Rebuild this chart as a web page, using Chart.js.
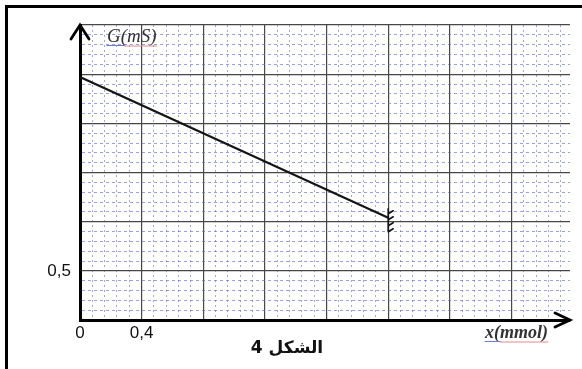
<!DOCTYPE html>
<html>
<head>
<meta charset="utf-8">
<script src="https://cdn.jsdelivr.net/npm/chart.js@4"></script>
<style>
html,body{margin:0;padding:0;background:#fff;}
#wrap{width:582px;height:369px;position:relative;}
</style>
</head>
<body>
<div id="wrap"><canvas id="c" width="582" height="369"></canvas></div>
<script>
// Data
const xValues = [0, 2.0];          // x (mmol)
const gValues = [2.47, 1.04];      // G (mS)
const xTickLabels = {0: '0', 40: '0,4'};   // key = value*100
const yTickLabels = {5: '0,5'};            // key = value*10
const yAxisTitle = 'G(mS)';
const xAxisTitle = 'x(mmol)';
const caption = 'الشكل 4';

const X_MIN = 0, X_MAX = 3.18, X_STEP = 0.08;
const Y_MIN = 0, Y_MAX = 3.0, Y_STEP = 0.1;

const MINOR_X_COLOR = 'rgba(110,115,175,0.62)';
const MINOR_Y_COLOR = 'rgba(90,100,220,0.62)';
const MAJOR_COLOR = '#474747';

function isMajorX(v){ return Math.round(v / X_STEP) % 5 === 0; }
function isMajorY(v){ return Math.round(v / Y_STEP) % 5 === 0; }

const decor = {
  id: 'decor',
  afterDraw(chart) {
    const ctx = chart.ctx;
    const xs = chart.scales.x, ys = chart.scales.y;
    const x0 = xs.getPixelForValue(X_MIN), y0 = ys.getPixelForValue(Y_MIN);
    const xR = xs.getPixelForValue(X_MAX), yT = ys.getPixelForValue(Y_MAX);
    ctx.save();
    // outer frame (top + left)
    ctx.strokeStyle = '#000';
    ctx.lineWidth = 3;
    ctx.beginPath();
    ctx.moveTo(6.5, 369); ctx.lineTo(6.5, 6.5); ctx.lineTo(582, 6.5);
    ctx.stroke();
    // arrows
    ctx.lineWidth = 2.8;
    ctx.lineCap = 'round';
    ctx.lineJoin = 'miter';
    ctx.beginPath();
    ctx.moveTo(x0 - 9, yT + 14); ctx.lineTo(x0, yT); ctx.lineTo(x0 + 9, yT + 14);
    ctx.stroke();
    ctx.beginPath();
    ctx.moveTo(xR - 15, y0 - 7); ctx.lineTo(xR, y0); ctx.lineTo(xR - 15, y0 + 7);
    ctx.stroke();
    // hatch at line end
    const ex = xs.getPixelForValue(xValues[xValues.length - 1]);
    const ey = ys.getPixelForValue(gValues[gValues.length - 1]);
    ctx.lineWidth = 1.6;
    ctx.strokeStyle = '#111';
    ctx.beginPath();
    ctx.moveTo(ex, ey - 9); ctx.lineTo(ex, ey + 14);
    for (let k = 0; k < 4; k++) {
      const yy = ey - 7 + k * 6;
      ctx.moveTo(ex, yy + 3); ctx.lineTo(ex + 5, yy);
    }
    ctx.stroke();
    // axis titles
    ctx.fillStyle = '#333';
    ctx.textBaseline = 'middle';
    ctx.textAlign = 'left';
    ctx.font = 'italic 19px "Liberation Serif"';
    const gx = 107, gy = 37;
    ctx.fillText(yAxisTitle, gx, gy);
    const gw = ctx.measureText(yAxisTitle).width;
    const gW = ctx.measureText('G').width;
    ctx.lineWidth = 1;
    ctx.strokeStyle = '#6c7bd8';
    ctx.beginPath(); ctx.moveTo(gx, gy + 8.5); ctx.lineTo(gx + gW + 4, gy + 8.5); ctx.stroke();
    ctx.strokeStyle = '#e08a8a';
    ctx.beginPath(); ctx.moveTo(gx + gW + 4, gy + 9); ctx.lineTo(gx + gw, gy + 9); ctx.stroke();

    ctx.font = 'italic bold 18px "Liberation Serif"';
    const tx = 485, ty = 333;
    ctx.fillText(xAxisTitle, tx, ty);
    const tw = ctx.measureText(xAxisTitle).width;
    const xw = ctx.measureText('x(').width;
    ctx.strokeStyle = '#6c7bd8';
    ctx.beginPath(); ctx.moveTo(tx, ty + 8.5); ctx.lineTo(tx + xw, ty + 8.5); ctx.stroke();
    ctx.strokeStyle = '#e08a8a';
    ctx.beginPath(); ctx.moveTo(tx + xw, ty + 9); ctx.lineTo(tx + tw, ty + 9); ctx.stroke();

    // caption
    ctx.fillStyle = '#111';
    ctx.font = 'bold 17px "DejaVu Sans"';
    ctx.direction = 'rtl';
    ctx.textAlign = 'center';
    ctx.fillText(caption, 287, 349);
    ctx.restore();
  }
};

new Chart(document.getElementById('c'), {
  type: 'scatter',
  data: {
    datasets: [{
      data: xValues.map((x, i) => ({x: x, y: gValues[i]})),
      showLine: true,
      borderColor: '#151515',
      borderWidth: 2.2,
      pointRadius: 0,
      fill: false
    }]
  },
  options: {
    responsive: false,
    animation: false,
    events: [],
    layout: {padding: {top: 25, right: 12, left: 0, bottom: 0}},
    plugins: {legend: {display: false}, tooltip: {enabled: false}, title: {display: false}},
    scales: {
      x: {
        type: 'linear',
        min: X_MIN, max: X_MAX,
        afterFit(s) { s.height = 49; },
        ticks: {
          stepSize: X_STEP,
          includeBounds: false,
          autoSkip: false,
          maxRotation: 0,
          padding: 3,
          color: '#111',
          font: {family: '"Liberation Sans"', size: 17},
          callback: (v) => xTickLabels[Math.round(v * 100)] || ''
        },
        grid: {
          drawTicks: false,
          color: (c) => c.tick && isMajorX(c.tick.value) ? MAJOR_COLOR : MINOR_X_COLOR,
          lineWidth: (c) => c.tick && isMajorX(c.tick.value) ? 1.2 : 1
        },
        border: {
          display: true, color: '#000', width: 3,
          dash: (c) => (c.tick && !isMajorX(c.tick.value)) ? [2, 3] : []
        }
      },
      y: {
        type: 'linear',
        min: Y_MIN, max: Y_MAX,
        afterFit(s) { s.width = 80; },
        ticks: {
          stepSize: Y_STEP,
          autoSkip: false,
          padding: 9,
          color: '#111',
          font: {family: '"Liberation Sans"', size: 17},
          callback: (v) => yTickLabels[Math.round(v * 10)] || ''
        },
        grid: {
          drawTicks: false,
          color: (c) => c.tick && isMajorY(c.tick.value) ? MAJOR_COLOR : MINOR_Y_COLOR,
          lineWidth: (c) => c.tick && isMajorY(c.tick.value) ? 1.2 : 1
        },
        border: {
          display: true, color: '#000', width: 3,
          dash: (c) => (c.tick && !isMajorY(c.tick.value)) ? [3, 3] : []
        }
      }
    }
  },
  plugins: [decor]
});
</script>
</body>
</html>
